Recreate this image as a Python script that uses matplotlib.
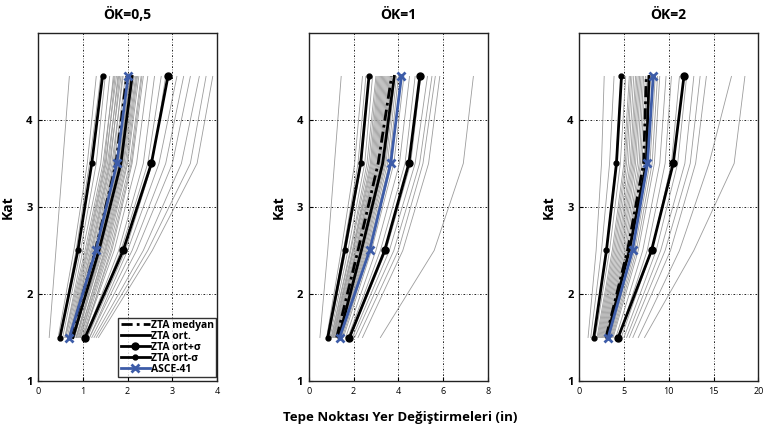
import numpy as np
import matplotlib.pyplot as plt

plt.rcParams['font.family'] = ['Open Sans', 'DejaVu Sans']

floors = [1.5, 2.5, 3.5, 4.5]
titles = ['ÖK=0,5', 'ÖK=1', 'ÖK=2']
xlims = [4, 8, 20]
xticks = [[0, 1, 2, 3, 4], [0, 2, 4, 6, 8], [0, 5, 10, 15, 20]]

# individual records (gray), displacement per floor
p1_gray = [
    [0.25, 0.40, 0.55, 0.70], [0.45, 0.80, 1.10, 1.30], [0.50, 0.85, 1.15, 1.40],
    [0.55, 0.95, 1.30, 1.50], [0.60, 1.00, 1.40, 1.60], [0.60, 1.05, 1.45, 1.70],
    [0.65, 1.10, 1.50, 1.75], [0.70, 1.15, 1.55, 1.80], [0.70, 1.20, 1.60, 1.85],
    [0.75, 1.25, 1.65, 1.90], [0.75, 1.30, 1.70, 1.95], [0.80, 1.30, 1.75, 2.00],
    [0.80, 1.35, 1.80, 2.05], [0.85, 1.40, 1.85, 2.10], [0.85, 1.45, 1.90, 2.15],
    [0.90, 1.50, 1.95, 2.20], [0.95, 1.55, 2.00, 2.25], [1.00, 1.65, 2.10, 2.35],
    [1.00, 1.70, 2.20, 2.45], [1.05, 1.80, 2.35, 2.60], [1.10, 1.85, 2.45, 2.75],
    [1.10, 1.95, 2.55, 2.85], [1.15, 2.00, 2.70, 3.10], [1.15, 2.10, 2.85, 3.25],
    [1.20, 2.20, 3.00, 3.40], [1.25, 2.35, 3.20, 3.60], [1.30, 2.45, 3.40, 3.75],
    [1.35, 2.55, 3.55, 3.90],
    [0.62, 1.08, 1.48, 1.68], [0.68, 1.12, 1.52, 1.72], [0.72, 1.18, 1.58, 1.78],
    [0.74, 1.22, 1.62, 1.82], [0.78, 1.28, 1.68, 1.88], [0.82, 1.33, 1.78, 2.02],
    [0.86, 1.38, 1.82, 2.06], [0.88, 1.42, 1.88, 2.12], [0.92, 1.48, 1.92, 2.18],
    [0.94, 1.52, 1.98, 2.22], [0.98, 1.58, 2.05, 2.30], [1.02, 1.62, 2.08, 2.32],
]
p2_gray = [
    [0.50, 0.85, 1.15, 1.45], [0.80, 1.45, 2.05, 2.40], [0.85, 1.55, 2.20, 2.55],
    [0.90, 1.65, 2.35, 2.70], [0.95, 1.75, 2.50, 2.85], [1.00, 1.85, 2.60, 3.00],
    [1.05, 1.95, 2.75, 3.10], [1.10, 2.00, 2.85, 3.20], [1.15, 2.10, 2.95, 3.30],
    [1.20, 2.15, 3.05, 3.40], [1.25, 2.25, 3.15, 3.50], [1.30, 2.35, 3.25, 3.60],
    [1.35, 2.45, 3.35, 3.70], [1.40, 2.55, 3.45, 3.85], [1.45, 2.65, 3.60, 4.00],
    [1.55, 2.80, 3.80, 4.25], [1.65, 3.00, 4.05, 4.50], [1.75, 3.20, 4.30, 4.75],
    [1.85, 3.45, 4.55, 5.00], [1.95, 3.60, 4.75, 5.30], [2.05, 3.80, 4.95, 5.50],
    [2.20, 4.00, 5.10, 5.65], [2.40, 4.20, 5.35, 5.85], [3.20, 5.60, 6.90, 7.35],
    [1.02, 1.88, 2.68, 3.05], [1.08, 1.98, 2.80, 3.15], [1.12, 2.05, 2.90, 3.25],
    [1.18, 2.12, 3.00, 3.35], [1.22, 2.20, 3.10, 3.45], [1.28, 2.30, 3.20, 3.55],
    [1.32, 2.40, 3.30, 3.65], [1.38, 2.50, 3.40, 3.78], [1.42, 2.60, 3.52, 3.92],
    [1.50, 2.72, 3.70, 4.10],
]
p3_gray = [
    [1.0, 1.9, 2.5, 2.8], [1.3, 2.5, 3.4, 3.9], [1.6, 3.0, 4.1, 4.7],
    [1.8, 3.4, 4.6, 5.2], [2.0, 3.7, 5.0, 5.6], [2.2, 4.0, 5.3, 5.9],
    [2.4, 4.3, 5.7, 6.3], [2.6, 4.6, 6.0, 6.6], [2.8, 4.9, 6.3, 6.9],
    [3.0, 5.2, 6.7, 7.2], [3.2, 5.5, 7.0, 7.6], [3.4, 5.8, 7.4, 8.0],
    [3.6, 6.2, 7.9, 8.5], [3.8, 6.6, 8.4, 9.0], [4.1, 7.1, 9.0, 9.7],
    [4.4, 7.6, 9.6, 10.3], [4.7, 8.1, 10.3, 11.2], [5.0, 8.6, 11.0, 12.0],
    [5.3, 9.1, 11.8, 12.8], [5.6, 9.6, 12.4, 13.5], [6.0, 10.2, 13.0, 14.2],
    [6.6, 11.2, 14.5, 17.0], [7.3, 12.8, 17.3, 18.5],
    [2.1, 3.85, 5.15, 5.75], [2.3, 4.15, 5.5, 6.1], [2.5, 4.45, 5.85, 6.45],
    [2.7, 4.75, 6.15, 6.75], [2.9, 5.05, 6.5, 7.05], [3.1, 5.35, 6.85, 7.4],
    [3.3, 5.65, 7.2, 7.8], [3.5, 6.0, 7.65, 8.25], [3.7, 6.4, 8.15, 8.75],
]

medyan = [[0.72, 1.28, 1.74, 1.98], [1.25, 2.20, 3.10, 3.70], [3.0, 5.4, 7.2, 7.5]]
ort = [[0.78, 1.36, 1.85, 2.10], [1.35, 2.35, 3.30, 3.82], [3.1, 5.6, 7.5, 7.8]]
ort_plus = [[1.05, 1.90, 2.53, 2.90], [1.82, 3.39, 4.47, 4.96], [4.36, 8.08, 10.5, 11.7]]
ort_minus = [[0.49, 0.89, 1.20, 1.44], [0.85, 1.60, 2.32, 2.69], [1.64, 3.05, 4.17, 4.73]]
asce = [[0.70, 1.29, 1.76, 2.01], [1.38, 2.72, 3.66, 4.14], [3.24, 5.96, 7.63, 8.27]]

gray_sets = [p1_gray, p2_gray, p3_gray]
blue = '#3d5ca8'

fig = plt.figure(figsize=(7.66, 4.33), dpi=100)
lefts = [0.0496, 0.403, 0.756]

for i in range(3):
    ax = fig.add_axes([lefts[i], 0.12, 0.234, 0.804])
    for g in gray_sets[i]:
        ax.plot(g, floors, color='#9c9c9c', lw=0.6, zorder=2)
    ax.plot(medyan[i], floors, color='black', lw=2, ls=(0, (4, 1.5, 1, 1.5)),
            label='ZTA medyan', zorder=4)
    ax.plot(ort[i], floors, color='black', lw=2, label='ZTA ort.', zorder=4)
    ax.plot(ort_plus[i], floors, color='black', lw=2, marker='o', ms=5,
            label='ZTA ort+σ', zorder=4)
    ax.plot(ort_minus[i], floors, color='black', lw=2, marker='o', ms=3.5,
            label='ZTA ort-σ', zorder=4)
    ax.plot(asce[i], floors, color=blue, lw=2, marker='x', ms=6, mew=2,
            label='ASCE-41', zorder=5)

    ax.set_xlim(0, xlims[i])
    ax.set_ylim(1, 5)
    ax.set_xticks(xticks[i])
    ax.set_yticks([1, 2, 3, 4])
    ax.grid(True, color='black', ls=(0, (2, 2, 0.6, 2)), lw=0.6, zorder=1)
    ax.tick_params(direction='in', length=3, labelsize=6.5, pad=4)
    for lab in ax.get_yticklabels():
        lab.set_fontsize(8)
        lab.set_fontweight('bold')
    for s in ax.spines.values():
        s.set_linewidth(1)
        s.set_color('#222222')
    ax.set_title(titles[i], fontsize=10, fontweight='bold', pad=10)
    ax.set_ylabel('Kat', fontsize=10, fontweight='bold', labelpad=8)

    if i == 0:
        leg = ax.legend(loc='lower right', bbox_to_anchor=(0.995, 0.012),
                        fontsize=7.5, frameon=True, fancybox=False,
                        borderpad=0.2, labelspacing=0.0, handlelength=2.8,
                        handletextpad=0.15, borderaxespad=0)
        leg.get_frame().set_edgecolor('black')
        leg.get_frame().set_linewidth(1)
        for t in leg.get_texts():
            t.set_fontweight('bold')

fig.text(0.522, 0.035, 'Tepe Noktası Yer Değiştirmeleri (in)', ha='center',
         va='center', fontsize=9.5, fontweight='bold')

fig.savefig('out.png', dpi=100)
